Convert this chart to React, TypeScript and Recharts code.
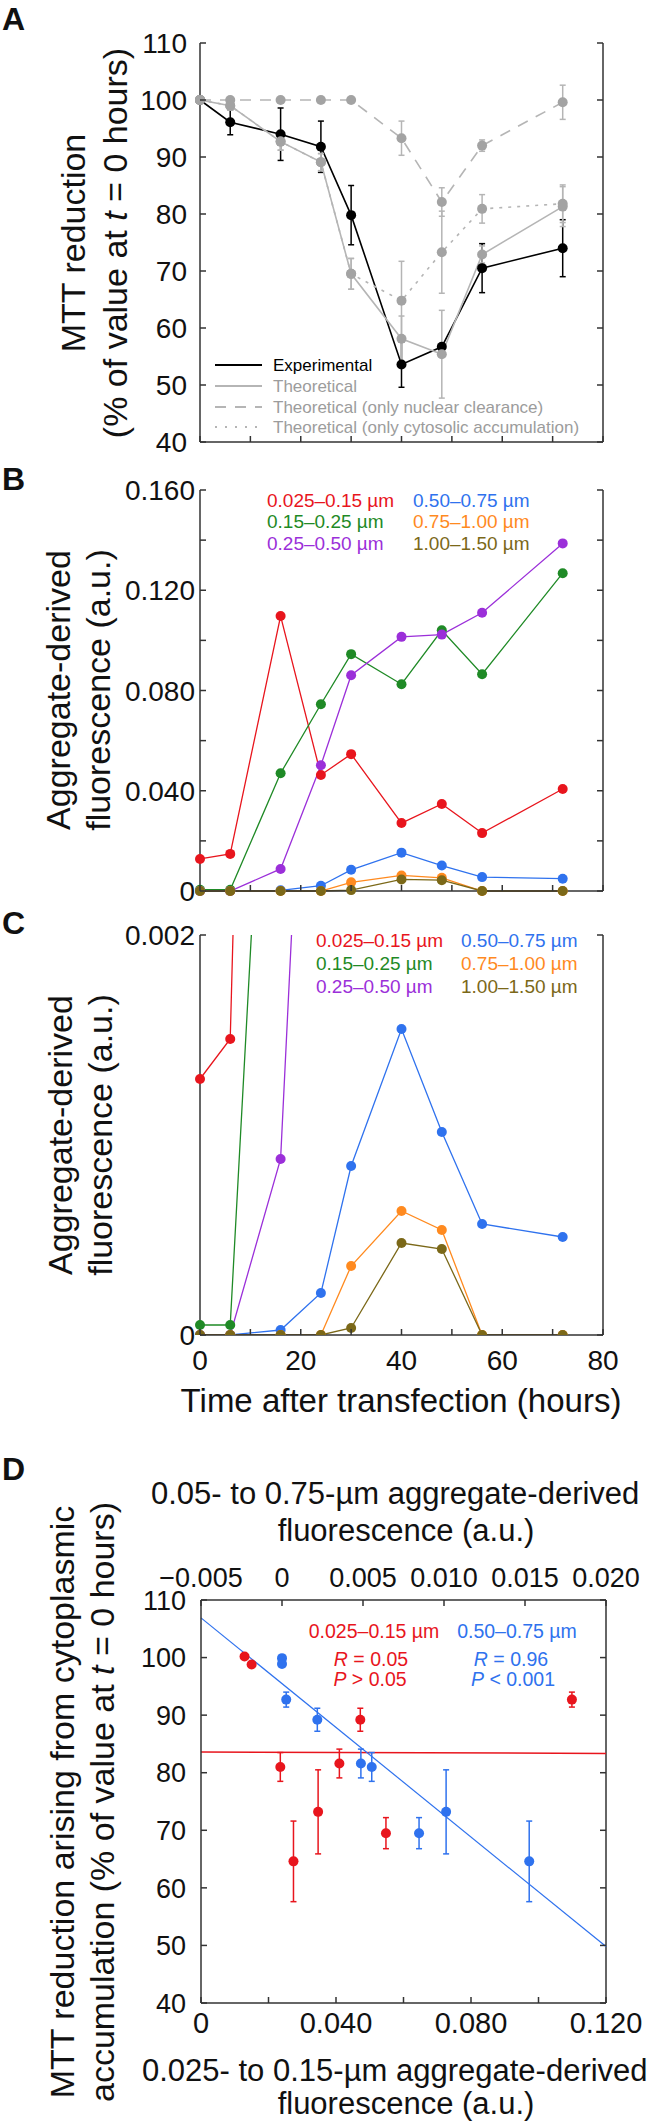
import React from 'react'
import { ComposedChart, LineChart, ScatterChart, Line, Scatter, XAxis, YAxis, ErrorBar, ReferenceLine } from 'recharts'

const FONT = '"Liberation Sans", Arial, Helvetica, sans-serif'
const AXIS = '#333'
const INK = '#111'

// hours after transfection (A, B, C share the same time axis)
const TIMES = [0, 6, 16, 24, 30, 40, 48, 56, 72]
const TIME_TICKS = [0, 10, 20, 30, 40, 50, 60, 70, 80]
const TIME_LABELS = ['0', '', '20', '', '40', '', '60', '', '80']
const NO_LABELS = ['', '', '', '', '', '', '', '', '']

// A: MTT reduction (% of value at t = 0)
const MTT_TICKS = [40, 50, 60, 70, 80, 90, 100, 110]
const MTT_LABELS = ['40', '50', '60', '70', '80', '90', '100', '110']
const EXPERIMENTAL = [100, 96.1, 94.0, 91.8, 79.8, 53.6, 56.7, 70.5, 74.0]
const EXPERIMENTAL_ERR = [0, 2.2, 4.6, 4.5, 5.2, 4.0, 0, 4.3, 5.0]
const THEORETICAL = [100, 99.0, 92.7, 89.1, 69.5, 58.1, 55.4, 72.9, 81.3]
const THEORETICAL_ERR = [0, 0.8, 1.5, 1.5, 2.7, 4.0, 7.7, 1.5, 3.5]
const NUCLEAR_ONLY = [100, 100, 100, 100, 100, 93.3, 82.1, 92.0, 99.6]
const NUCLEAR_ERR = [0, 0, 0, 0, 0, 3.0, 2.5, 1.0, 3.0]
const CYTOSOLIC_ONLY = [100, 99.0, 92.7, 89.1, 69.5, 64.8, 73.3, 80.9, 81.8]
const CYTOSOLIC_ERR = [0, 0.8, 1.5, 1.5, 2.7, 6.9, 7.2, 2.5, 3.3]

// B / C: aggregate-derived fluorescence by aggregate size
const FLUO_TICKS = [0, 0.02, 0.04, 0.06, 0.08, 0.1, 0.12, 0.14, 0.16]
const FLUO_LABELS = ['0', '', '0.040', '', '0.080', '', '0.120', '', '0.160']
const ZOOM_TICKS = [0, 0.02]
const ZOOM_LABELS = ['0', '0.002']
const SIZE_025_015 = [0.0128, 0.0148, 0.1097, 0.0463, 0.0546, 0.0271, 0.0347, 0.0231, 0.0407]
const SIZE_015_025 = [0.0005, 0.0005, 0.047, 0.0745, 0.0945, 0.0825, 0.104, 0.0865, 0.1268]
const SIZE_025_050 = [0, 0, 0.0088, 0.0502, 0.0861, 0.1014, 0.1023, 0.111, 0.1387]
const SIZE_050_075 = [0, 0, 0.00025, 0.0021, 0.00845, 0.0153, 0.01015, 0.00555, 0.0049]
const SIZE_075_100 = [0, 0, 0, 0, 0.00345, 0.0062, 0.00525, 0, 0]
const SIZE_100_150 = [0, 0, 0, 0, 0.00035, 0.0046, 0.0043, 0, 0]

// D: MTT reduction vs fluorescence
const D_BOTTOM_TICKS = [0, 0.02, 0.04, 0.06, 0.08, 0.1, 0.12]
const D_BOTTOM_LABELS = ['0', '', '0.040', '', '0.080', '', '0.120']
const D_TOP_TICKS = [-0.005, 0, 0.005, 0.01, 0.015, 0.02]
const D_TOP_LABELS = ['\u22120.005', '0', '0.005', '0.010', '0.015', '0.020']
const RED_X = [0.0129, 0.015, 0.0235, 0.0274, 0.0347, 0.041, 0.0472, 0.0548, 0.1099]
const RED_Y = [100.2, 98.8, 81.0, 64.6, 73.2, 81.6, 89.2, 69.5, 92.7]
const RED_ERR = [0, 0, 2.5, 7.0, 7.3, 2.5, 2.0, 2.7, 1.3]
const BLUE_X = [0, 0, 0.00026, 0.00218, 0.00487, 0.00554, 0.00846, 0.01013, 0.01526]
const BLUE_Y = [99.9, 98.9, 92.7, 89.2, 81.6, 81.0, 69.5, 73.2, 64.6]
const BLUE_ERR = [0, 0, 1.3, 2.0, 2.5, 2.5, 2.7, 7.3, 7.0]
const RED_FIT = [{ x: 0, y: 83.6 }, { x: 0.12, y: 83.35 }]
const BLUE_FIT = [{ x: -0.005, y: 106.9 }, { x: 0.02, y: 49.8 }]

const GREY_DOT = '#a3a3a3'
const GREY_LINE = '#b5b5b5'
const RED = '#e8151d'
const GREEN = '#1f8a26'
const PURPLE = '#9b2fd9'
const BLUE = '#2f72ee'
const ORANGE = '#ff8a1f'
const OLIVE = '#7b6818'

const SIZES = [
  { key: 's1', label: '0.025\u20130.15 \u00b5m', color: RED, values: SIZE_025_015 },
  { key: 's2', label: '0.15\u20130.25 \u00b5m', color: GREEN, values: SIZE_015_025 },
  { key: 's3', label: '0.25\u20130.50 \u00b5m', color: PURPLE, values: SIZE_025_050 },
  { key: 's4', label: '0.50\u20130.75 \u00b5m', color: BLUE, values: SIZE_050_075 },
  { key: 's5', label: '0.75\u20131.00 \u00b5m', color: ORANGE, values: SIZE_075_100 },
  { key: 's6', label: '1.00\u20131.50 \u00b5m', color: OLIVE, values: SIZE_100_150 },
]

const mttRows = TIMES.map((t, i) => ({
  t,
  exp: EXPERIMENTAL[i],
  expErr: EXPERIMENTAL_ERR[i],
  theo: THEORETICAL[i],
  theoErr: THEORETICAL_ERR[i],
  nuc: NUCLEAR_ONLY[i],
  nucErr: NUCLEAR_ERR[i],
  cyt: CYTOSOLIC_ONLY[i],
  cytErr: CYTOSOLIC_ERR[i],
}))

const fluoRows = TIMES.map((t, i) => {
  const row: any = { t }
  SIZES.forEach((s) => (row[s.key] = s.values[i]))
  return row
})

const redPoints = RED_X.map((x, i) => ({ x, y: RED_Y[i], err: RED_ERR[i] }))
const bluePoints = BLUE_X.map((x, i) => ({ x, y: BLUE_Y[i], err: BLUE_ERR[i] }))

// ticks point inwards on left and right sides, label only where given
function yTick(labels: string[], plotW: number, size: number, gap: number) {
  return (p: any) => (
    <g>
      <line x1={p.x} x2={p.x + 6} y1={p.y} y2={p.y} stroke={AXIS} strokeWidth={1.5} />
      <line x1={p.x + plotW} x2={p.x + plotW - 6} y1={p.y} y2={p.y} stroke={AXIS} strokeWidth={1.5} />
      {labels[p.index] ? (
        <text x={p.x - gap} y={p.y} dy="0.36em" textAnchor="end" fontSize={size} fill={INK} fontFamily={FONT}>
          {labels[p.index]}
        </text>
      ) : null}
    </g>
  )
}

function xTick(labels: string[], size: number, offset: number, top = false) {
  const dir = top ? -1 : 1
  return (p: any) => (
    <g>
      <line x1={p.x} x2={p.x} y1={p.y} y2={p.y - dir * 6} stroke={AXIS} strokeWidth={1.5} />
      {labels[p.index] ? (
        <text x={p.x} y={p.y + dir * offset} dy="0.36em" textAnchor="middle" fontSize={size} fill={INK} fontFamily={FONT}>
          {labels[p.index]}
        </text>
      ) : null}
    </g>
  )
}

const axisLine = { stroke: AXIS, strokeWidth: 1.5 }

function Label({ x, y, size, color = INK, align = 'left', bold = false, children }: any) {
  const tx = align === 'center' ? '-50%' : align === 'right' ? '-100%' : '0'
  return (
    <div
      style={{
        position: 'absolute',
        left: x,
        top: y,
        transform: `translate(${tx}, -50%)`,
        fontSize: size,
        lineHeight: 1,
        color,
        fontWeight: bold ? 'bold' : 'normal',
        whiteSpace: 'nowrap',
      }}
    >
      {children}
    </div>
  )
}

function VTitle({ cx, cy, gap, size, children }: any) {
  return (
    <div
      style={{
        position: 'absolute',
        left: cx,
        top: cy,
        transform: 'translate(-50%, -50%) rotate(-90deg)',
        fontSize: size,
        lineHeight: `${gap}px`,
        textAlign: 'center',
        whiteSpace: 'nowrap',
        color: INK,
      }}
    >
      {children}
    </div>
  )
}

function SizeLegend({ left, right, rows }: { left: number; right: number; rows: number[] }) {
  return (
    <>
      {SIZES.map((s, i) => (
        <Label key={s.key} x={i < 3 ? left : right} y={rows[i % 3]} size={19} color={s.color}>
          {s.label}
        </Label>
      ))}
    </>
  )
}

function MttLegend() {
  const rows = [
    { y: 365, text: 'Experimental', color: '#000', dash: undefined, textColor: '#000' },
    { y: 386, text: 'Theoretical', color: GREY_LINE, dash: undefined, textColor: '#9c9c9c' },
    { y: 407, text: 'Theoretical (only nuclear clearance)', color: GREY_LINE, dash: '11 9', textColor: '#9c9c9c' },
    { y: 427, text: 'Theoretical (only cytosolic accumulation)', color: GREY_LINE, dash: '2 8', textColor: '#9c9c9c' },
  ]
  return (
    <>
      <svg width={651} height={460} style={{ position: 'absolute', left: 0, top: 0 }}>
        {rows.map((r) => (
          <line key={r.text} x1={215} x2={262} y1={r.y} y2={r.y} stroke={r.color} strokeWidth={2} strokeDasharray={r.dash} />
        ))}
      </svg>
      {rows.map((r) => (
        <Label key={r.text} x={273} y={r.y} size={17} color={r.textColor}>
          {r.text}
        </Label>
      ))}
    </>
  )
}

const dot = (color: string) => ({ r: 5, fill: color, stroke: 'none' })

export default function App() {
  return (
    <div style={{ position: 'absolute', left: 0, top: 0, width: 651, height: 2125, background: '#fff', fontFamily: FONT }}>
      {/* A */}
      <div style={{ position: 'absolute', left: 0, top: 0 }}>
        <ComposedChart width={651} height={500} data={mttRows} margin={{ top: 43, right: 48, bottom: 18, left: 140 }}>
          <XAxis dataKey="t" type="number" domain={[0, 80]} ticks={TIME_TICKS} interval={0} height={40} tickLine={false} tickSize={0} tickMargin={0} axisLine={axisLine} tick={xTick(NO_LABELS, 28, 25)} />
          <YAxis type="number" domain={[40, 110]} ticks={MTT_TICKS} interval={0} width={60} tickLine={false} tickSize={0} tickMargin={0} axisLine={axisLine} tick={yTick(MTT_LABELS, 403, 28, 13)} />
          <ReferenceLine x={80} stroke={AXIS} strokeWidth={1.5} />
          <Line dataKey="exp" stroke="#000" strokeWidth={1.6} dot={dot('#000')} activeDot={false} isAnimationActive={false}>
            <ErrorBar dataKey="expErr" direction="y" width={3} stroke="#000" strokeWidth={1.5} isAnimationActive={false} />
          </Line>
          <Line dataKey="theo" stroke={GREY_LINE} strokeWidth={1.6} dot={dot(GREY_DOT)} activeDot={false} isAnimationActive={false}>
            <ErrorBar dataKey="theoErr" direction="y" width={3} stroke={GREY_LINE} strokeWidth={1.5} isAnimationActive={false} />
          </Line>
          <Line dataKey="nuc" stroke={GREY_LINE} strokeWidth={1.6} strokeDasharray="11 9" dot={dot(GREY_DOT)} activeDot={false} isAnimationActive={false}>
            <ErrorBar dataKey="nucErr" direction="y" width={3} stroke={GREY_LINE} strokeWidth={1.5} isAnimationActive={false} />
          </Line>
          <Line dataKey="cyt" stroke={GREY_LINE} strokeWidth={1.6} strokeDasharray="3 6" dot={dot(GREY_DOT)} activeDot={false} isAnimationActive={false}>
            <ErrorBar dataKey="cytErr" direction="y" width={3} stroke={GREY_LINE} strokeWidth={1.5} isAnimationActive={false} />
          </Line>
        </ComposedChart>
      </div>
      <MttLegend />
      <Label x={2} y={19} size={32} bold>A</Label>
      <VTitle cx={94} cy={243} gap={42} size={34}>
        MTT reduction
        <br />
        (% of value at <i>t</i> = 0 hours)
      </VTitle>

      {/* B */}
      <div style={{ position: 'absolute', left: 0, top: 440 }}>
        <LineChart width={651} height={500} data={fluoRows} margin={{ top: 50, right: 48, bottom: 9, left: 140 }}>
          <XAxis dataKey="t" type="number" domain={[0, 80]} ticks={TIME_TICKS} interval={0} height={40} tickLine={false} tickSize={0} tickMargin={0} axisLine={axisLine} tick={xTick(NO_LABELS, 28, 25)} />
          <YAxis type="number" domain={[0, 0.16]} ticks={FLUO_TICKS} interval={0} width={60} tickLine={false} tickSize={0} tickMargin={0} axisLine={axisLine} tick={yTick(FLUO_LABELS, 403, 28, 5)} />
          <ReferenceLine x={80} stroke={AXIS} strokeWidth={1.5} />
          {SIZES.map((s) => (
            <Line key={s.key} dataKey={s.key} stroke={s.color} strokeWidth={1.3} dot={dot(s.color)} activeDot={false} isAnimationActive={false} />
          ))}
        </LineChart>
      </div>
      <SizeLegend left={267} right={413} rows={[500, 521, 543]} />
      <Label x={2} y={479} size={32} bold>B</Label>
      <VTitle cx={78} cy={690} gap={40} size={34}>
        Aggregate-derived
        <br />
        fluorescence (a.u.)
      </VTitle>

      {/* C */}
      <div style={{ position: 'absolute', left: 0, top: 890 }}>
        <LineChart width={651} height={500} data={fluoRows} margin={{ top: 45, right: 48, bottom: 15, left: 140 }}>
          <XAxis dataKey="t" type="number" domain={[0, 80]} ticks={TIME_TICKS} interval={0} height={40} tickLine={false} tickSize={0} tickMargin={0} axisLine={axisLine} tick={xTick(TIME_LABELS, 28, 25)} />
          <YAxis type="number" domain={[0, 0.02]} allowDataOverflow ticks={ZOOM_TICKS} interval={0} width={60} tickLine={false} tickSize={0} tickMargin={0} axisLine={axisLine} tick={yTick(ZOOM_LABELS, 403, 28, 5)} />
          <ReferenceLine x={80} stroke={AXIS} strokeWidth={1.5} />
          {SIZES.map((s) => (
            <Line key={s.key} dataKey={s.key} stroke={s.color} strokeWidth={1.3} dot={dot(s.color)} activeDot={false} isAnimationActive={false} />
          ))}
        </LineChart>
      </div>
      <SizeLegend left={316} right={461} rows={[940, 963, 986]} />
      <Label x={2} y={923} size={32} bold>C</Label>
      <VTitle cx={80} cy={1135} gap={40} size={34}>
        Aggregate-derived
        <br />
        fluorescence (a.u.)
      </VTitle>
      <Label x={401} y={1400} size={33} align="center">Time after transfection (hours)</Label>

      {/* D */}
      <div style={{ position: 'absolute', left: 0, top: 1550 }}>
        <ScatterChart width={651} height={510} margin={{ top: 10, right: 45, bottom: 17, left: 141 }}>
          <XAxis xAxisId="bottom" dataKey="x" type="number" domain={[0, 0.12]} ticks={D_BOTTOM_TICKS} interval={0} height={40} tickLine={false} tickSize={0} tickMargin={0} axisLine={axisLine} tick={xTick(D_BOTTOM_LABELS, 29, 20)} />
          <XAxis xAxisId="top" orientation="top" dataKey="x" type="number" domain={[-0.005, 0.02]} ticks={D_TOP_TICKS} interval={0} height={40} tickLine={false} tickSize={0} tickMargin={0} axisLine={axisLine} tick={xTick(D_TOP_LABELS, 27, 23, true)} />
          <YAxis dataKey="y" type="number" domain={[40, 110]} ticks={MTT_TICKS} interval={0} width={60} tickLine={false} tickSize={0} tickMargin={0} axisLine={axisLine} tick={yTick(MTT_LABELS, 405, 27, 15)} />
          <ReferenceLine xAxisId="bottom" x={0.12} stroke={AXIS} strokeWidth={1.5} />
          <ReferenceLine xAxisId="bottom" segment={RED_FIT} stroke={RED} strokeWidth={1.5} />
          <ReferenceLine xAxisId="top" segment={BLUE_FIT} stroke={BLUE} strokeWidth={1.2} />
          <Scatter xAxisId="bottom" data={redPoints} fill={RED} isAnimationActive={false} shape={(p: any) => <circle cx={p.cx} cy={p.cy} r={5} fill={RED} />}>
            <ErrorBar dataKey="err" direction="y" width={3} stroke={RED} strokeWidth={1.5} isAnimationActive={false} />
          </Scatter>
          <Scatter xAxisId="top" data={bluePoints} fill={BLUE} isAnimationActive={false} shape={(p: any) => <circle cx={p.cx} cy={p.cy} r={5} fill={BLUE} />}>
            <ErrorBar dataKey="err" direction="y" width={3} stroke={BLUE} strokeWidth={1.5} isAnimationActive={false} />
          </Scatter>
        </ScatterChart>
      </div>
      <Label x={2} y={1469} size={32} bold>D</Label>
      <Label x={151} y={1493} size={31}>0.05- to 0.75-{'\u00b5'}m aggregate-derived</Label>
      <Label x={406} y={1530} size={31} align="center">fluorescence (a.u.)</Label>
      <Label x={142} y={2070} size={31}>0.025- to 0.15-{'\u00b5'}m aggregate-derived</Label>
      <Label x={406} y={2103} size={31} align="center">fluorescence (a.u.)</Label>
      <VTitle cx={82} cy={1802} gap={40} size={34}>
        MTT reduction arising from cytoplasmic
        <br />
        accumulation (% of value at <i>t</i> = 0 hours)
      </VTitle>
      <Label x={374} y={1632} size={19.5} color={RED} align="center">0.025{'\u2013'}0.15 {'\u00b5'}m</Label>
      <Label x={371} y={1660} size={19.5} color={RED} align="center"><i>R</i> = 0.05</Label>
      <Label x={370} y={1680} size={19.5} color={RED} align="center"><i>P</i> &gt; 0.05</Label>
      <Label x={517} y={1632} size={19.5} color={BLUE} align="center">0.50{'\u2013'}0.75 {'\u00b5'}m</Label>
      <Label x={511} y={1660} size={19.5} color={BLUE} align="center"><i>R</i> = 0.96</Label>
      <Label x={513} y={1680} size={19.5} color={BLUE} align="center"><i>P</i> &lt; 0.001</Label>
    </div>
  )
}
